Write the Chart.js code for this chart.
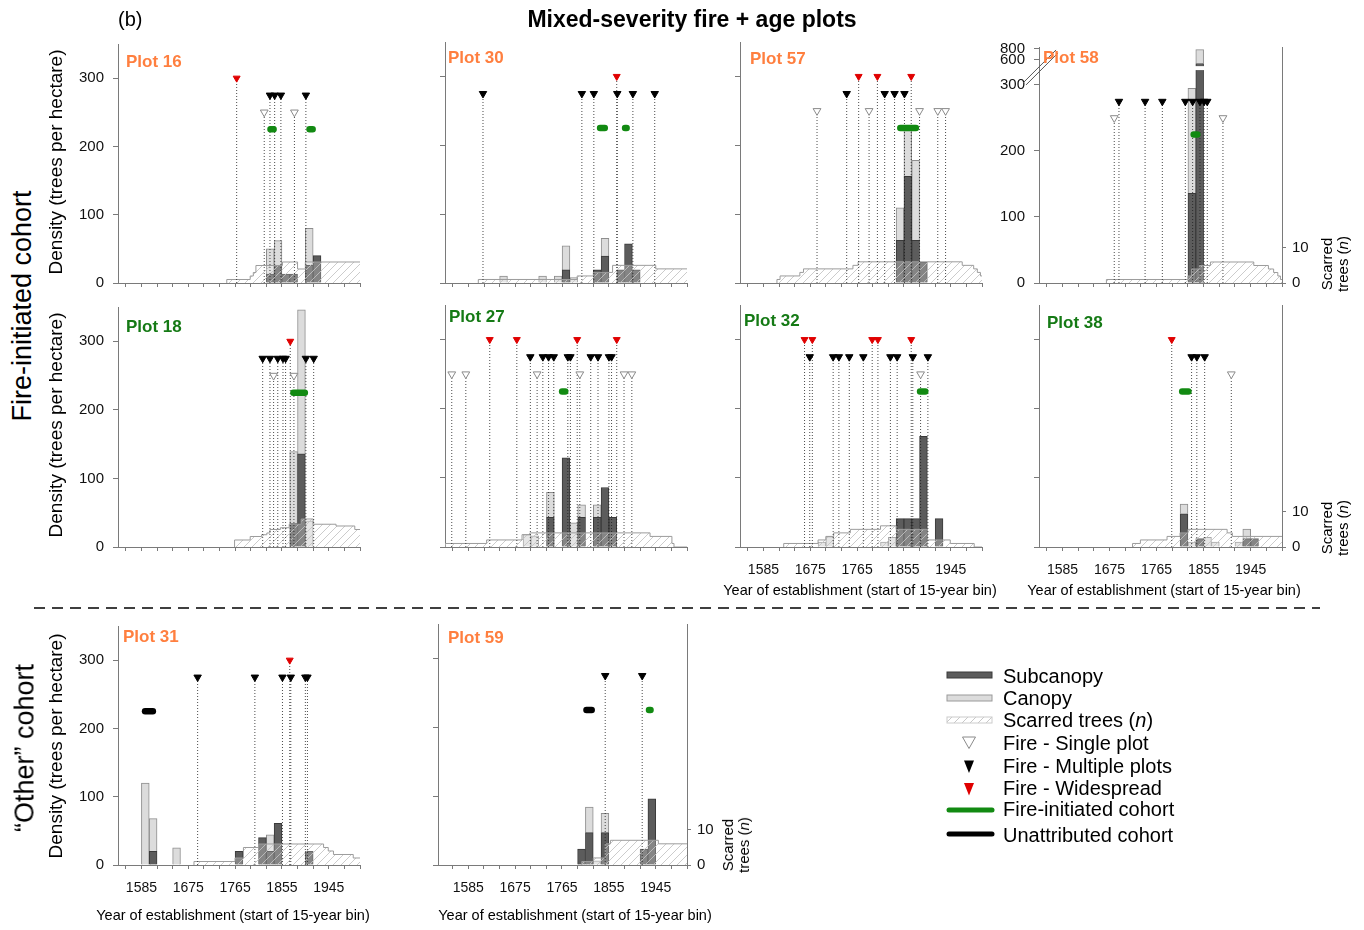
<!DOCTYPE html>
<html>
<head>
<meta charset="utf-8">
<title>Mixed-severity fire + age plots</title>
<script src="https://cdn.jsdelivr.net/npm/chart.js@4.4.1/dist/chart.umd.min.js"></script>
<style>
  html, body { margin: 0; padding: 0; background: #fff; }
  #fig { position: relative; width: 1364px; height: 930px; overflow: hidden; font-family: "Liberation Sans", Arial, sans-serif; color: #000; }
  #fig canvas { position: absolute; }
  .lbl { position: absolute; white-space: nowrap; line-height: 1; }
  .mid { transform: translate(-50%, -50%); }
  .rot { transform: translate(-50%, -50%) rotate(-90deg); }
  .ptitle { position: absolute; font-weight: bold; font-size: 17px; line-height: 1; transform: translateY(-50%); white-space: nowrap; }
  .leg { position: absolute; left: 1003px; font-size: 20px; line-height: 1; transform: translateY(-50%); white-space: nowrap; }
</style>
</head>
<body>
<div id="fig">
  <div class="lbl" style="left:118px;top:9px;font-size:20px">(b)</div>
  <div class="lbl mid" style="left:692px;top:19px;font-size:23px;font-weight:bold">Mixed-severity fire + age plots</div>

  <div class="lbl rot" style="left:22px;top:306px;font-size:27px">Fire-initiated cohort</div>
  <div class="lbl rot" style="left:25px;top:748px;font-size:27px">“Other” cohort</div>
  <div class="lbl rot" style="left:55px;top:162px;font-size:19px">Density (trees per hectare)</div>
  <div class="lbl rot" style="left:55px;top:425px;font-size:19px">Density (trees per hectare)</div>
  <div class="lbl rot" style="left:55px;top:746px;font-size:19px">Density (trees per hectare)</div>

  <div class="lbl rot" style="left:1335px;top:264px;font-size:15px;line-height:16px;text-align:center">Scarred<br>trees (<i>n</i>)</div>
  <div class="lbl rot" style="left:1335px;top:528px;font-size:15px;line-height:16px;text-align:center">Scarred<br>trees (<i>n</i>)</div>
  <div class="lbl rot" style="left:736px;top:845px;font-size:15px;line-height:16px;text-align:center">Scarred<br>trees (<i>n</i>)</div>

  <div class="lbl mid" style="left:860px;top:590px;font-size:14.5px">Year of establishment (start of 15-year bin)</div>
  <div class="lbl mid" style="left:1164px;top:590px;font-size:14.5px">Year of establishment (start of 15-year bin)</div>
  <div class="lbl mid" style="left:233px;top:915px;font-size:14.5px">Year of establishment (start of 15-year bin)</div>
  <div class="lbl mid" style="left:575px;top:915px;font-size:14.5px">Year of establishment (start of 15-year bin)</div>

  <svg style="position:absolute;left:0;top:0" width="1364" height="930">
    <line x1="34" y1="608" x2="1320" y2="608" stroke="#000" stroke-width="1.3" stroke-dasharray="11 7"/>
  </svg>

  <svg style="position:absolute;left:940px;top:665px" width="62" height="180">
    <defs>
      <pattern id="hp" width="8" height="8" patternUnits="userSpaceOnUse">
        <path d="M0 8 L8 0" stroke="#c8c8c8" stroke-width="1"/>
      </pattern>
    </defs>
    <rect x="7" y="7" width="45" height="6" fill="#5c5c5c" stroke="#3a3a3a" stroke-width="1"/>
    <rect x="7" y="30" width="45" height="6" fill="#dcdcdc" stroke="#9a9a9a" stroke-width="1"/>
    <rect x="7" y="52" width="45" height="6" fill="url(#hp)" stroke="#cccccc" stroke-width="1"/>
    <path d="M22.5 72 L35.5 72 L29 83.5 Z" fill="#fff" stroke="#8a8a8a" stroke-width="1"/>
    <path d="M24 95.5 L34 95.5 L29 108 Z" fill="#000"/>
    <path d="M24 118 L34 118 L29 130.5 Z" fill="#e00000"/>
    <line x1="9" y1="145" x2="52" y2="145" stroke="#128a12" stroke-width="5" stroke-linecap="round"/>
    <line x1="9" y1="169" x2="52" y2="169" stroke="#000" stroke-width="5" stroke-linecap="round"/>
  </svg>
  <div class="leg" style="top:676px">Subcanopy</div>
  <div class="leg" style="top:698px">Canopy</div>
  <div class="leg" style="top:720px">Scarred trees (<i>n</i>)</div>
  <div class="leg" style="top:743px">Fire - Single plot</div>
  <div class="leg" style="top:766px">Fire - Multiple plots</div>
  <div class="leg" style="top:788px">Fire - Widespread</div>
  <div class="leg" style="top:809px">Fire-initiated cohort</div>
  <div class="leg" style="top:835px">Unattributed cohort</div>
</div>

<script>
// tick labels
const yearTicks = [1585, 1675, 1765, 1855, 1945];
const densityTicks = [0, 100, 200, 300];
const brokenTicks = [600, 800];
const scarTicks = [0, 10];

// [bin start, trees/ha] ; canopy is the part stacked above subcanopy
// scarred trees: [year, n] steps ; fires: years ; cohorts: [from, to]
const p16Sub = [[1825, 13], [1840, 26], [1855, 13], [1870, 13], [1900, 26], [1915, 40]];
const p16Can = [[1825, 37], [1840, 36], [1900, 54]];
const p16Scar = [[1749, 1], [1794, 2], [1800, 3], [1805, 5], [1856, 6], [1885, 4], [1900, 6]];
const p16Single = [1821, 1879];
const p16Multi = [1832, 1841, 1853, 1901];
const p16Wide = [1768];
const p16Fic = [[1833, 1839], [1908, 1914]];

const p30Sub = [[1765, 19], [1825, 19], [1840, 39], [1870, 19], [1885, 57], [1900, 19]];
const p30Can = [[1645, 10], [1720, 10], [1750, 10], [1765, 35], [1780, 8], [1840, 26]];
const p30Scar = [[1604, 1], [1794, 2], [1825, 3], [1862, 5], [1945, 4]];
const p30Single = [];
const p30Multi = [1613, 1803, 1826, 1871, 1901, 1943];
const p30Wide = [1870];
const p30Fic = [[1838, 1847], [1886, 1889]];

const p57Sub = [[1840, 62], [1855, 155], [1870, 62], [1885, 30]];
const p57Can = [[1840, 47], [1855, 67], [1870, 116]];
const p57Scar = [[1611, 1], [1617, 2], [1655, 3], [1662, 4], [1757, 5], [1767, 6], [1967, 5], [1989, 4], [1996, 3], [2002, 2]];
const p57Single = [1688, 1788, 1885, 1920, 1935];
const p57Multi = [1745, 1818, 1837, 1856];
const p57Wide = [1768, 1804, 1869];
const p57Fic = [[1848, 1878]];

const p58Sub = [[1825, 136], [1840, 527]];
const p58Can = [[1825, 159], [1840, 255]];
const p58Scar = [[1669, 1], [1825, 2], [1832, 4], [1847, 5], [1868, 6], [1951, 5], [1979, 4], [1989, 3], [1997, 2], [2002, 1]];
const p58Single = [1684, 1892];
const p58Multi = [1693, 1743, 1776, 1820, 1834, 1848, 1856, 1862];
const p58Wide = [];
const p58Fic = [[1836, 1843]];

const p18Sub = [[1870, 34], [1885, 136]];
const p18Can = [[1870, 105], [1885, 210], [1900, 38]];
const p18Scar = [[1764, 2], [1794, 3], [1816, 3.5], [1826, 4], [1832, 5], [1852, 5.5], [1869, 6.5], [1892, 8], [1915, 6.5], [1959, 6], [1995, 5]];
const p18Single = [1839, 1878];
const p18Multi = [1818, 1832, 1847, 1857, 1862, 1901, 1916];
const p18Wide = [1871];
const p18Fic = [[1877, 1899]];

const p27Sub = [[1735, 43], [1765, 129], [1795, 43], [1825, 43], [1840, 86], [1855, 43]];
const p27Can = [[1690, 18], [1705, 16], [1735, 36], [1780, 35], [1795, 18], [1825, 18]];
const p27Scar = [[1540, 1], [1620, 2], [1688, 3.5], [1703, 4], [1934, 3], [1976, 1], [1980, 0]];
const p27Single = [1553, 1580, 1717, 1799, 1884, 1899];
const p27Multi = [1704, 1728, 1739, 1749, 1776, 1781, 1820, 1834, 1855, 1860];
const p27Wide = [1626, 1678, 1794, 1870];
const p27Fic = [[1765, 1771]];

const p32Sub = [[1840, 41], [1855, 41], [1870, 41], [1885, 160], [1915, 41]];
const p32Can = [[1690, 7], [1705, 15], [1810, 7], [1825, 14]];
const p32Scar = [[1624, 1], [1690, 2], [1705, 3], [1720, 4], [1752, 5], [1810, 6], [1840, 5], [1900, 2], [1944, 1], [1990, 0]];
const p32Single = [1887];
const p32Multi = [1674, 1719, 1730, 1750, 1777, 1829, 1842, 1872, 1901];
const p32Wide = [1664, 1679, 1794, 1805, 1869];
const p32Fic = [[1886, 1896]];

const p38Sub = [[1810, 48], [1840, 12], [1930, 12], [1945, 12]];
const p38Can = [[1810, 14], [1825, 7], [1855, 14], [1870, 7], [1915, 7], [1930, 14]];
const p38Scar = [[1719, 1], [1734, 2], [1785, 3], [1810, 4], [1825, 5], [1900, 4], [1910, 3]];
const p38Single = [1908];
const p38Multi = [1832, 1842, 1857];
const p38Wide = [1794];
const p38Fic = [[1814, 1826]];

const p31Sub = [[1600, 20], [1765, 20], [1810, 40], [1825, 20], [1840, 61], [1900, 20]];
const p31Can = [[1585, 120], [1600, 48], [1645, 25], [1825, 24]];
const p31Scar = [[1686, 1], [1765, 2], [1781, 5], [1810, 6], [1935, 5], [1944, 4], [1954, 3], [1992, 2]];
const p31Multi = [1693, 1803, 1856, 1872, 1900, 1904];
const p31Wide = [1870];
const p31Unc = [[1592, 1607]];

const p59Sub = [[1795, 23], [1810, 47], [1840, 47], [1915, 23], [1930, 96]];
const p59Can = [[1810, 37], [1825, 6], [1840, 28]];
const p59Scar = [[1803, 1], [1825, 2], [1848, 6], [1858, 7], [1950, 6]];
const p59Multi = [1848, 1919];
const p59Fic = [[1932, 1935]];
const p59Unc = [[1812, 1822]];

// ---------- layout ----------
const FONT = '"Liberation Sans", Arial, sans-serif';
Chart.defaults.font.family = FONT;
Chart.defaults.color = '#111';

const ORANGE = '#ff7f3f', GREEN = '#157a15';
const COLS = [[118, 360], [445, 687], [740, 982], [1039, 1282]];
const ROWS = [[42, 283], [305, 547], [624, 865]];
const PADL = 80, PADR = 50, PADT = 16, PADB = 52;
const X_START = 1540, X_END = 2005, BIN = 15;
const LEVEL = { wide: 300, multi: 275, single: 250, cohort: 225 };
const SCAR_PX = 3.53;

const panels = [
  { name: 'Plot 16', tone: ORANGE, col: 0, row: 0, yLab: true, tx: 126, ty: 61,
    sub: p16Sub, can: p16Can, scar: p16Scar, single: p16Single, multi: p16Multi, wide: p16Wide, fic: p16Fic, unc: [] },
  { name: 'Plot 30', tone: ORANGE, col: 1, row: 0, tx: 448, ty: 57,
    sub: p30Sub, can: p30Can, scar: p30Scar, single: p30Single, multi: p30Multi, wide: p30Wide, fic: p30Fic, unc: [] },
  { name: 'Plot 57', tone: ORANGE, col: 2, row: 0, tx: 750, ty: 58,
    sub: p57Sub, can: p57Can, scar: p57Scar, single: p57Single, multi: p57Multi, wide: p57Wide, fic: p57Fic, unc: [] },
  { name: 'Plot 58', tone: ORANGE, col: 3, row: 0, yLab: true, right: true, broken: true, top: 45, tx: 1043, ty: 57,
    sub: p58Sub, can: p58Can, scar: p58Scar, single: p58Single, multi: p58Multi, wide: p58Wide, fic: p58Fic, unc: [] },
  { name: 'Plot 18', tone: GREEN, col: 0, row: 1, yLab: true, tx: 126, ty: 326,
    sub: p18Sub, can: p18Can, scar: p18Scar, single: p18Single, multi: p18Multi, wide: p18Wide, fic: p18Fic, unc: [] },
  { name: 'Plot 27', tone: GREEN, col: 1, row: 1, tx: 449, ty: 316,
    sub: p27Sub, can: p27Can, scar: p27Scar, single: p27Single, multi: p27Multi, wide: p27Wide, fic: p27Fic, unc: [] },
  { name: 'Plot 32', tone: GREEN, col: 2, row: 1, xLab: true, tx: 744, ty: 320,
    sub: p32Sub, can: p32Can, scar: p32Scar, single: p32Single, multi: p32Multi, wide: p32Wide, fic: p32Fic, unc: [] },
  { name: 'Plot 38', tone: GREEN, col: 3, row: 1, xLab: true, right: true, tx: 1047, ty: 322,
    sub: p38Sub, can: p38Can, scar: p38Scar, single: p38Single, multi: p38Multi, wide: p38Wide, fic: p38Fic, unc: [] },
  { name: 'Plot 31', tone: ORANGE, col: 0, row: 2, yLab: true, xLab: true, tx: 123, ty: 636,
    sub: p31Sub, can: p31Can, scar: p31Scar, single: [], multi: p31Multi, wide: p31Wide, fic: [], unc: p31Unc },
  { name: 'Plot 59', tone: ORANGE, col: 1, row: 2, xLab: true, right: true, left: 438, xmin: 1527, tx: 448, ty: 637,
    sub: p59Sub, can: p59Can, scar: p59Scar, single: [], multi: p59Multi, wide: [], fic: p59Fic, unc: p59Unc }
];

// Plot 58 uses a broken density axis (0-300 linear, compressed above)
function brokenT(v) {
  if (v <= 300) return v;
  if (v <= 500) return 300 + (v - 300) * 30.25 / 200;
  return 330.25 + (v - 500) * 0.0825;
}

function hatchPattern() {
  const c = document.createElement('canvas');
  c.width = 8; c.height = 8;
  const g = c.getContext('2d');
  g.fillStyle = 'rgba(255,255,255,0.25)';
  g.fillRect(0, 0, 8, 8);
  g.strokeStyle = 'rgba(195,195,195,0.85)';
  g.lineWidth = 1;
  g.beginPath();
  g.moveTo(0, 8); g.lineTo(8, 0);
  g.moveTo(-1, 1); g.lineTo(1, -1);
  g.moveTo(7, 9); g.lineTo(9, 7);
  g.stroke();
  return g.createPattern(c, 'repeat');
}
const HATCH = hatchPattern();

const breakPlugin = {
  id: 'axisBreak',
  afterDatasetsDraw(chart, args, opts) {
    if (!opts.on) return;
    const { ctx, chartArea, scales } = chart;
    const ya = scales.y.getPixelForValue(322.5), yb = scales.y.getPixelForValue(328.5);
    ctx.save();
    ctx.fillStyle = '#fff';
    ctx.fillRect(chartArea.left + 1, yb, chartArea.right - chartArea.left - 2, ya - yb);
    const x0 = chartArea.left, y0 = scales.y.getPixelForValue(300);
    ctx.strokeStyle = '#555';
    ctx.lineWidth = 1;
    ctx.beginPath();
    ctx.moveTo(x0 - 16, y0 - 2); ctx.lineTo(x0 + 17, y0 - 35);
    ctx.moveTo(x0 - 13, y0); ctx.lineTo(x0 + 19, y0 - 32);
    ctx.stroke();
    ctx.restore();
  }
};

const xTickVals = [];
for (let v = yearTicks[0] - 30; v <= X_END; v += 30) xTickVals.push(v);

function build(p) {
  const fig = document.getElementById('fig');
  const [cl, cr] = COLS[p.col];
  const [rt, rb] = ROWS[p.row];
  const left = p.left || cl, top = p.top || rt;
  const xmin = p.xmin || X_START;
  const w = cr - left, h = rb - top;
  const T = p.broken ? brokenT : (v => v);
  const ymax = p.broken ? brokenT(830) : 350;
  const bw = w / (X_END - xmin) * BIN;

  const yVals = densityTicks.concat(p.broken ? brokenTicks : []);
  const yLabel = {};
  yVals.forEach(v => { yLabel[T(v)] = String(v); });

  const subPts = p.sub.map(([b, v]) => ({ x: b + BIN / 2, y: T(v) }));
  const canPts = p.can.map(([b, v]) => {
    const s = (p.sub.find(d => d[0] === b) || [b, 0])[1];
    return { x: b + BIN / 2, y: [T(s), T(s + v)] };
  });
  const scarPts = [{ x: p.scar[0][0], y: 0 }];
  p.scar.forEach(([x, n]) => scarPts.push({ x, y: n }));
  scarPts.push({ x: X_END, y: p.scar[p.scar.length - 1][1] });

  const fireLines = [];
  [['wide', p.wide], ['multi', p.multi], ['single', p.single]].forEach(([k, yrs]) => {
    yrs.forEach(x => fireLines.push({ x, y: 0 }, { x, y: LEVEL[k] }, { x, y: null }));
  });
  const seg = list => {
    const out = [];
    list.forEach(([a, b]) => out.push({ x: a, y: LEVEL.cohort }, { x: b, y: LEVEL.cohort }, { x: b, y: null }));
    return out;
  };
  const marks = (yrs, k) => yrs.map(x => ({ x, y: LEVEL[k] }));

  const cv = document.createElement('canvas');
  cv.width = PADL + w + PADR;
  cv.height = PADT + h + PADB;
  cv.style.left = (left - PADL) + 'px';
  cv.style.top = (top - PADT) + 'px';
  fig.insertBefore(cv, fig.firstChild);

  const t = document.createElement('div');
  t.className = 'ptitle';
  t.style.left = p.tx + 'px';
  t.style.top = p.ty + 'px';
  t.style.color = p.tone;
  t.textContent = p.name;
  fig.appendChild(t);

  const axisGrey = '#7a7a7a';
  new Chart(cv, {
    type: 'bar',
    data: {
      datasets: [
        { type: 'line', label: 'Fire - Widespread', data: marks(p.wide, 'wide'), showLine: false,
          pointStyle: 'triangle', pointRotation: 180, pointRadius: 4, pointBackgroundColor: '#e00000',
          pointBorderColor: '#e00000', pointBorderWidth: 1, order: 0 },
        { type: 'line', label: 'Fire - Multiple plots', data: marks(p.multi, 'multi'), showLine: false,
          pointStyle: 'triangle', pointRotation: 180, pointRadius: 4.3, pointBackgroundColor: '#000',
          pointBorderColor: '#000', pointBorderWidth: 1, order: 0 },
        { type: 'line', label: 'Fire - Single plot', data: marks(p.single, 'single'), showLine: false,
          pointStyle: 'triangle', pointRotation: 180, pointRadius: 4.5, pointBackgroundColor: '#fff',
          pointBorderColor: '#8a8a8a', pointBorderWidth: 1, order: 0 },
        { type: 'line', label: 'Fire-initiated cohort', data: seg(p.fic), borderColor: '#128a12',
          borderWidth: 6.5, borderCapStyle: 'round', pointRadius: 0, spanGaps: false, order: 1 },
        { type: 'line', label: 'Unattributed cohort', data: seg(p.unc), borderColor: '#000',
          borderWidth: 6.5, borderCapStyle: 'round', pointRadius: 0, spanGaps: false, order: 1 },
        { type: 'line', label: 'fires', data: fireLines, borderColor: 'rgba(30,30,30,0.8)', borderWidth: 1,
          borderDash: [1, 2], pointRadius: 0, spanGaps: false, order: 2 },
        { type: 'line', label: 'Scarred trees (n)', yAxisID: 'y2', data: scarPts, stepped: 'before',
          borderColor: '#9c9c9c', borderWidth: 1, backgroundColor: HATCH, fill: 'origin', pointRadius: 0, order: 3 },
        { type: 'bar', label: 'Subcanopy', data: subPts, backgroundColor: '#5c5c5c', borderColor: '#3a3a3a',
          borderWidth: 1, barThickness: bw, grouped: false, order: 4 },
        { type: 'bar', label: 'Canopy', data: canPts, backgroundColor: '#dcdcdc', borderColor: '#8e8e8e',
          borderWidth: 1, barThickness: bw, grouped: false, order: 5 }
      ]
    },
    options: {
      responsive: false,
      maintainAspectRatio: false,
      animation: false,
      events: [],
      devicePixelRatio: 1,
      layout: { padding: { top: PADT, left: 0, bottom: 0, right: p.right ? 0 : PADR } },
      plugins: { legend: { display: false }, tooltip: { enabled: false }, axisBreak: { on: !!p.broken } },
      scales: {
        x: {
          type: 'linear', min: xmin, max: X_END, offset: false,
          afterFit(s) { s.height = PADB; },
          afterBuildTicks(s) { s.ticks = xTickVals.map(v => ({ value: v })); },
          ticks: { display: !!p.xLab, autoSkip: false, maxRotation: 0, padding: 11, color: '#111',
            font: { size: 14 }, callback: v => yearTicks.includes(v) ? String(v) : '' },
          grid: { offset: false, drawOnChartArea: false, drawTicks: true, tickLength: 4, color: axisGrey },
          border: { display: true, color: axisGrey }
        },
        y: {
          type: 'linear', position: 'left', min: 0, max: ymax,
          afterFit(s) { s.width = PADL; },
          afterBuildTicks(s) { s.ticks = yVals.map(v => ({ value: T(v) })); },
          ticks: { display: !!p.yLab, autoSkip: false, padding: 9, color: '#111', font: { size: 15 },
            callback: v => yLabel[v] },
          grid: { drawOnChartArea: false, drawTicks: true, tickLength: 5, color: axisGrey },
          border: { display: true, color: axisGrey }
        },
        y2: {
          type: 'linear', position: 'right', min: 0, max: h / SCAR_PX, display: !!p.right,
          afterFit(s) { s.width = p.right ? PADR : 0; },
          afterBuildTicks(s) { s.ticks = scarTicks.map(v => ({ value: v })); },
          ticks: { autoSkip: false, padding: 6, color: '#111', font: { size: 15 }, callback: v => String(v) },
          grid: { drawOnChartArea: false, drawTicks: true, tickLength: 4, color: axisGrey },
          border: { display: true, color: axisGrey }
        }
      }
    },
    plugins: [breakPlugin]
  });
}

panels.forEach(build);
</script>
</body>
</html>
